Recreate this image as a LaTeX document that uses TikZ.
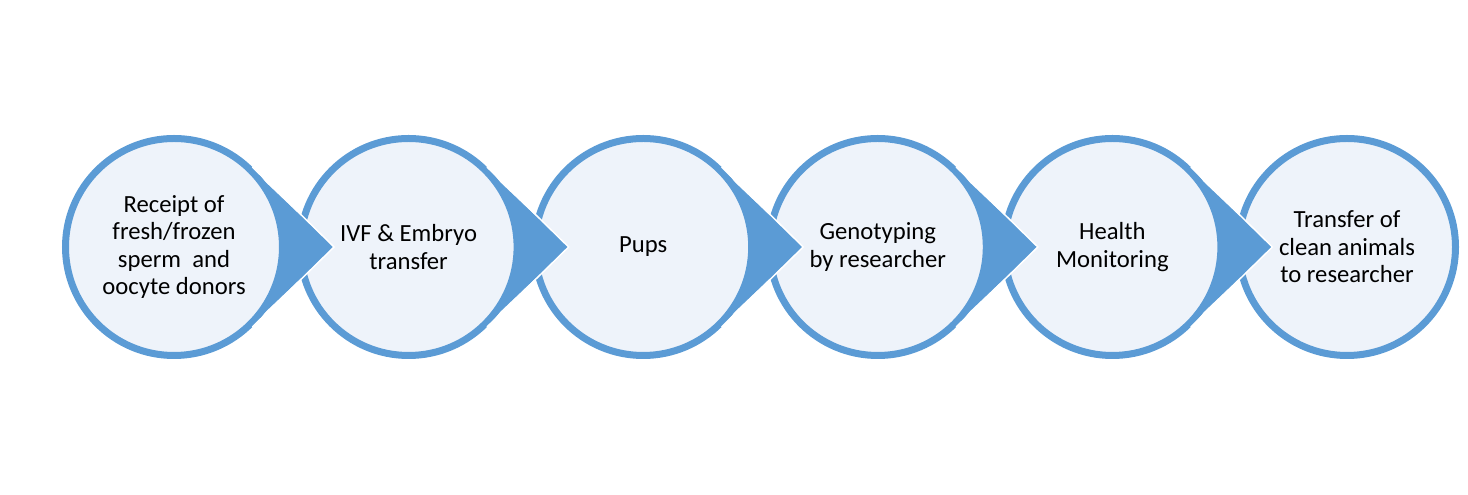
\documentclass[tikz,border=0pt]{standalone}
\usepackage{fontspec}
\setmainfont{Carlito}
\usetikzlibrary{positioning, calc}
\definecolor{ringblue}{HTML}{5B9BD5}
\definecolor{ringfill}{HTML}{EEF3FA}
\tikzset{
  stepcircle/.style={circle, draw=ringblue, line width=5.25pt, fill=ringfill, minimum size=162.75pt, inner sep=0pt, outer sep=2.625pt, align=center, font=\fontsize{18.5}{20.6}\selectfont},
  pointer/.style={fill=ringblue},
  pointeredge/.style={draw=white, line width=1.1pt},
}

\begin{document}
\begin{tikzpicture}[x=0.75pt, y=0.75pt, node distance=7.95pt]
  \useasboundingbox (0,0) rectangle (1468,495);

  % Kreise von rechts nach links, damit jede Spitze über dem nächsten Kreis liegt
  \node[stepcircle] (c6) at (1347,248) {Transfer of\\clean animals\\to researcher};

  \node[stepcircle, left=of c6] (c5) {Health\\Monitoring};
  \fill[pointer] ($(c5.center)+(45.57:110)$) -- ($(c5.center)+(160,0)$) -- ($(c5.center)+(-45.57:110)$) arc[start angle=-45.57, end angle=45.57, radius=110] -- cycle;
  \draw[pointeredge] ($(c5.center)+(45.57:112)$) -- ($(c5.center)+(160,0)$) -- ($(c5.center)+(-45.57:112)$);

  \node[stepcircle, left=of c5] (c4) {Genotyping\\by researcher};
  \fill[pointer] ($(c4.center)+(45.57:110)$) -- ($(c4.center)+(160,0)$) -- ($(c4.center)+(-45.57:110)$) arc[start angle=-45.57, end angle=45.57, radius=110] -- cycle;
  \draw[pointeredge] ($(c4.center)+(45.57:112)$) -- ($(c4.center)+(160,0)$) -- ($(c4.center)+(-45.57:112)$);

  \node[stepcircle, left=of c4] (c3) {Pups};
  \fill[pointer] ($(c3.center)+(45.57:110)$) -- ($(c3.center)+(160,0)$) -- ($(c3.center)+(-45.57:110)$) arc[start angle=-45.57, end angle=45.57, radius=110] -- cycle;
  \draw[pointeredge] ($(c3.center)+(45.57:112)$) -- ($(c3.center)+(160,0)$) -- ($(c3.center)+(-45.57:112)$);

  \node[stepcircle, left=of c3] (c2) {IVF \& Embryo\\transfer};
  \fill[pointer] ($(c2.center)+(45.57:110)$) -- ($(c2.center)+(160,0)$) -- ($(c2.center)+(-45.57:110)$) arc[start angle=-45.57, end angle=45.57, radius=110] -- cycle;
  \draw[pointeredge] ($(c2.center)+(45.57:112)$) -- ($(c2.center)+(160,0)$) -- ($(c2.center)+(-45.57:112)$);

  \node[stepcircle, left=of c2] (c1) {Receipt of\\fresh/frozen\\sperm\ \ and\\oocyte donors};
  \fill[pointer] ($(c1.center)+(45.57:110)$) -- ($(c1.center)+(160,0)$) -- ($(c1.center)+(-45.57:110)$) arc[start angle=-45.57, end angle=45.57, radius=110] -- cycle;
  \draw[pointeredge] ($(c1.center)+(45.57:112)$) -- ($(c1.center)+(160,0)$) -- ($(c1.center)+(-45.57:112)$);
\end{tikzpicture}
\end{document}
